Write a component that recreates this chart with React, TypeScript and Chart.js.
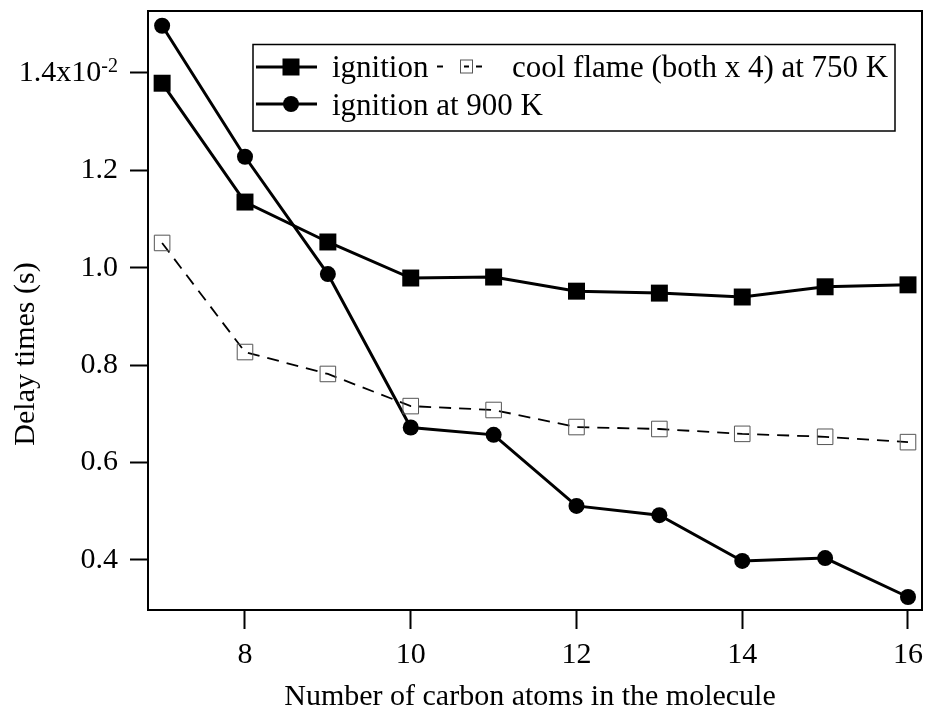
import React, { useEffect, useRef } from "react";
import { Chart, registerables } from "chart.js";

Chart.register(...registerables);

// ---- data ----
const carbonAtoms = [7, 8, 9, 10, 11, 12, 13, 14, 15, 16];
const ignition750 = [1.379, 1.135, 1.053, 0.979, 0.981, 0.952, 0.948, 0.94, 0.961, 0.965];
const coolFlame750 = [1.051, 0.827, 0.782, 0.716, 0.708, 0.673, 0.669, 0.659, 0.653, 0.642];
const ignition900 = [1.497, 1.228, 0.987, 0.672, 0.657, 0.511, 0.492, 0.398, 0.404, 0.324];

const xTickValues = [8, 10, 12, 14, 16];
const yTickValues = [0.4, 0.6, 0.8, 1.0, 1.2, 1.4];
const topTickBase = "1.4x10";
const topTickExp = "-2";

const xTitle = "Number of carbon atoms in the molecule";
const yTitle = "Delay times (s)";
const legendIgnition = "ignition";
const legendCool = "cool flame (both x 4) at 750 K";
const legend900 = "ignition at 900 K";

const FONT = '"Liberation Serif", "Times New Roman", Times, serif';

const decorPlugin = {
  id: "decor",
  afterDraw(chart: any) {
    const { ctx, chartArea: a, scales } = chart;
    ctx.save();
    // frame
    ctx.strokeStyle = "#000";
    ctx.lineWidth = 2;
    ctx.setLineDash([]);
    ctx.strokeRect(a.left, a.top, a.right - a.left, a.bottom - a.top);

    // top y tick label with superscript
    const ys = scales.y;
    const y14 = ys.getPixelForValue(1.4);
    const labelRight = ys.right - 18 - 12;
    ctx.fillStyle = "#000";
    ctx.textAlign = "right";
    ctx.font = `20px ${FONT}`;
    ctx.textBaseline = "alphabetic";
    const expW = ctx.measureText(topTickExp).width;
    ctx.fillText(topTickExp, labelRight, y14 - 1);
    ctx.font = `30px ${FONT}`;
    ctx.textBaseline = "middle";
    ctx.fillText(topTickBase, labelRight - expW, y14);

    // axis titles
    ctx.font = `30px ${FONT}`;
    ctx.textAlign = "center";
    ctx.textBaseline = "alphabetic";
    ctx.fillText(xTitle, (a.left + a.right) / 2 - 5, 705);
    ctx.save();
    ctx.translate(34, 354);
    ctx.rotate(-Math.PI / 2);
    ctx.fillText(yTitle, 0, 0);
    ctx.restore();

    // legend
    const bx = 253, by = 44.5, bw = 642, bh = 86.5;
    ctx.fillStyle = "#fff";
    ctx.fillRect(bx, by, bw, bh);
    ctx.strokeStyle = "#000";
    ctx.lineWidth = 1.5;
    ctx.strokeRect(bx, by, bw, bh);

    const r1 = 67, r2 = 104;
    ctx.lineWidth = 3;
    ctx.beginPath();
    ctx.moveTo(256, r1);
    ctx.lineTo(317, r1);
    ctx.moveTo(256, r2);
    ctx.lineTo(317, r2);
    ctx.stroke();
    ctx.fillStyle = "#000";
    ctx.fillRect(291 - 8.5, r1 - 8.5, 17, 17);
    ctx.beginPath();
    ctx.arc(291, r2, 8, 0, Math.PI * 2);
    ctx.fill();

    ctx.font = `31px ${FONT}`;
    ctx.textAlign = "left";
    ctx.textBaseline = "alphabetic";
    ctx.fillText(legendIgnition, 332, 77);
    ctx.fillText(legendCool, 512, 77);
    ctx.fillText(legend900, 332, 115);

    // dashed sample with open square
    const sy = 66.5;
    ctx.lineWidth = 1.8;
    ctx.beginPath();
    ctx.moveTo(437, sy);
    ctx.lineTo(443, sy);
    ctx.moveTo(476, sy);
    ctx.lineTo(482, sy);
    ctx.moveTo(464, sy);
    ctx.lineTo(469, sy);
    ctx.stroke();
    ctx.strokeStyle = "#555";
    ctx.lineWidth = 1;
    ctx.strokeRect(460.5, sy - 6.5, 12, 13);

    ctx.restore();
  },
};

export default function App() {
  const ref = useRef<HTMLCanvasElement | null>(null);

  useEffect(() => {
    if (!ref.current) return;
    const chart = new Chart(ref.current, {
      type: "line",
      data: {
        datasets: [
          {
            label: "ignition 750 K",
            data: carbonAtoms.map((c, i) => ({ x: c, y: ignition750[i] })),
            borderColor: "#000",
            borderWidth: 3,
            pointStyle: "rect",
            pointRadius: 12,
            pointBackgroundColor: "#000",
            pointBorderWidth: 0,
            tension: 0,
          },
          {
            label: "cool flame 750 K",
            data: carbonAtoms.map((c, i) => ({ x: c, y: coolFlame750[i] })),
            borderColor: "#000",
            borderWidth: 1.8,
            borderDash: [12, 8],
            pointStyle: "rect",
            pointRadius: 11,
            pointBackgroundColor: "rgba(0,0,0,0)",
            pointBorderColor: "#555",
            pointBorderWidth: 1,
            tension: 0,
          },
          {
            label: "ignition 900 K",
            data: carbonAtoms.map((c, i) => ({ x: c, y: ignition900[i] })),
            borderColor: "#000",
            borderWidth: 3,
            pointStyle: "circle",
            pointRadius: 8,
            pointBackgroundColor: "#000",
            pointBorderWidth: 0,
            tension: 0,
          },
        ],
      },
      options: {
        responsive: false,
        animation: false,
        layout: { autoPadding: false, padding: { top: 11, right: 6, left: 0, bottom: 0 } },
        plugins: {
          legend: { display: false },
          tooltip: { enabled: false },
          title: { display: false },
        },
        scales: {
          x: {
            type: "linear",
            min: 6.8296,
            max: 16.169,
            afterBuildTicks: (s: any) => {
              s.ticks = xTickValues.map((v) => ({ value: v }));
            },
            afterFit: (s: any) => {
              s.height = 107;
              s.paddingLeft = 0;
              s.paddingRight = 0;
            },
            border: { display: false },
            grid: {
              drawOnChartArea: false,
              drawTicks: true,
              tickLength: 19,
              tickWidth: 2,
              tickColor: "#000",
            },
            ticks: {
              color: "#000",
              font: { family: FONT, size: 30 },
              padding: 8,
              maxRotation: 0,
              autoSkip: false,
              callback: (v: any) => String(v),
            },
          },
          y: {
            type: "linear",
            min: 0.2973,
            max: 1.5273,
            afterBuildTicks: (s: any) => {
              s.ticks = yTickValues.map((v) => ({ value: v }));
            },
            afterFit: (s: any) => {
              s.width = 148;
              s.paddingTop = 0;
              s.paddingBottom = 0;
            },
            border: { display: false },
            grid: {
              drawOnChartArea: false,
              drawTicks: true,
              tickLength: 18,
              tickWidth: 2,
              tickColor: "#000",
            },
            ticks: {
              color: "#000",
              font: { family: FONT, size: 30 },
              padding: 12,
              autoSkip: false,
              callback: (v: any) => (Math.abs(v - 1.4) < 1e-9 ? "" : Number(v).toFixed(1)),
            },
          },
        },
      },
      plugins: [decorPlugin],
    });
    return () => chart.destroy();
  }, []);

  return (
    <div style={{ position: "absolute", left: 0, top: 0, width: 928, height: 717, background: "#fff" }}>
      <canvas ref={ref} width={928} height={717} />
    </div>
  );
}
